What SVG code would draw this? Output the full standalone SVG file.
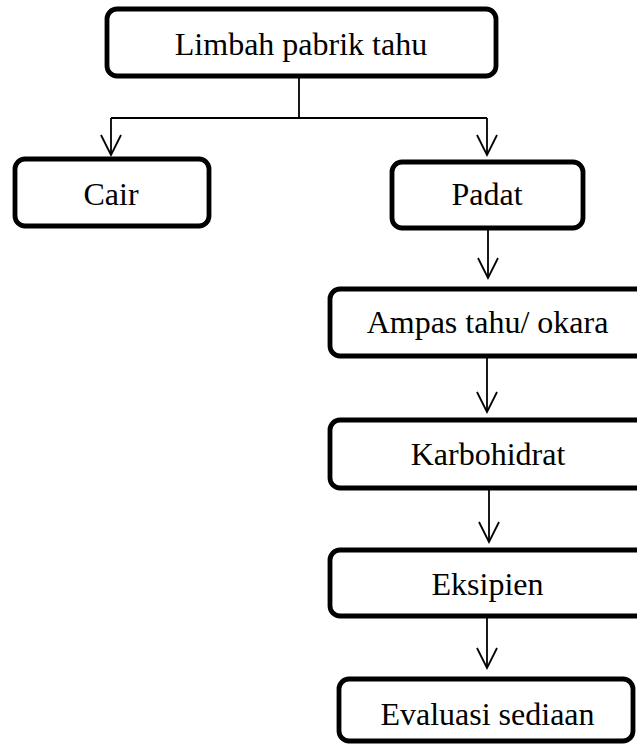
<svg xmlns="http://www.w3.org/2000/svg" width="637" height="746" viewBox="0 0 637 746">
<style>
.box{fill:#fff;stroke:#000;stroke-width:4.8}
.lbl{font-family:"Liberation Serif","Times New Roman",serif;font-size:32px;fill:#000;text-anchor:middle}
.con{fill:none;stroke:#000;stroke-width:1.8}
</style>
<defs>
<marker id="arr" markerUnits="userSpaceOnUse" markerWidth="24" markerHeight="24" refX="21" refY="11" orient="auto">
<path d="M1,1 L21,11 L1,21" fill="none" stroke="#000" stroke-width="1.8"/>
</marker>
</defs>
<rect width="637" height="746" fill="#fff"/>
<g id="connectors">
<path class="con" d="M299,78 V118"/>
<path class="con" d="M111,118 H487"/>
<path class="con" d="M111,118 V155" marker-end="url(#arr)"/>
<path class="con" d="M487,118 V155" marker-end="url(#arr)"/>
<path class="con" d="M488,230 V278" marker-end="url(#arr)"/>
<path class="con" d="M487,358 V412" marker-end="url(#arr)"/>
<path class="con" d="M489,490 V542" marker-end="url(#arr)"/>
<path class="con" d="M487,618 V668" marker-end="url(#arr)"/>
</g>
<g id="limbah">
<rect class="box" x="107" y="9" width="389" height="67" rx="10"/>
<text class="lbl" x="301" y="55">Limbah pabrik tahu</text>
</g>
<g id="cair">
<rect class="box" x="15" y="159" width="194" height="67" rx="10"/>
<text class="lbl" x="111" y="205">Cair</text>
</g>
<g id="padat">
<rect class="box" x="392" y="162" width="191" height="66" rx="10"/>
<text class="lbl" x="487" y="205">Padat</text>
</g>
<g id="ampas">
<rect class="box" x="330" y="289" width="320" height="67" rx="10"/>
<text class="lbl" x="487.5" y="333">Ampas tahu/ okara</text>
</g>
<g id="karbohidrat">
<rect class="box" x="330" y="420" width="320" height="68" rx="10"/>
<text class="lbl" x="488" y="465">Karbohidrat</text>
</g>
<g id="eksipien">
<rect class="box" x="330" y="550" width="320" height="66" rx="10"/>
<text class="lbl" x="487.5" y="595">Eksipien</text>
</g>
<g id="evaluasi">
<rect class="box" x="339" y="679" width="294" height="62" rx="10"/>
<text class="lbl" x="487.5" y="725">Evaluasi sediaan</text>
</g>
</svg>
